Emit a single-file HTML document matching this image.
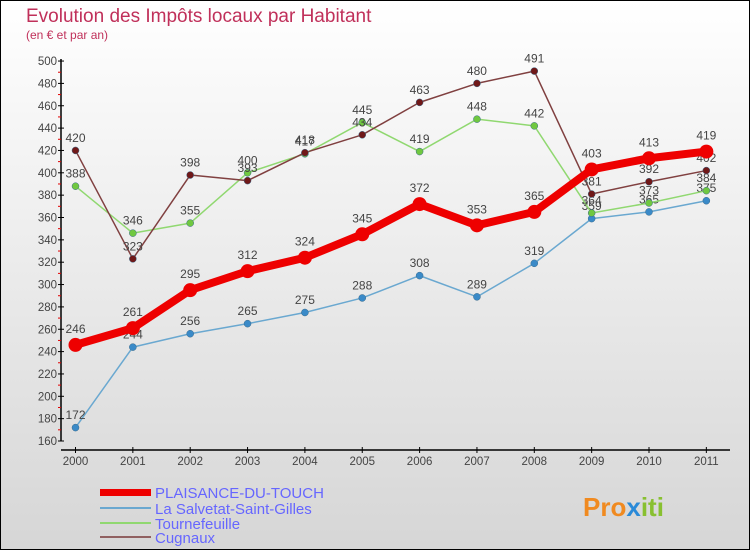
<!DOCTYPE html>
<html><head><meta charset="utf-8"><style>
html,body{margin:0;padding:0}
body{width:750px;height:550px;overflow:hidden;font-family:"Liberation Sans",sans-serif}
</style></head><body>
<svg width="750" height="550" xmlns="http://www.w3.org/2000/svg">
<defs><linearGradient id="bg" x1="0" y1="0" x2="0" y2="1"><stop offset="0" stop-color="#ffffff"/><stop offset="1" stop-color="#d6d6d6"/></linearGradient></defs>
<rect x="0.5" y="0.5" width="749" height="549" fill="url(#bg)" stroke="#000"/>
<text x="26" y="22" font-size="19" fill="#c0305a">Evolution des Impôts locaux par Habitant</text>
<text x="26" y="39" font-size="12" fill="#c0305a">(en € et par an)</text>
<g id="axes"></g>
<g id="series"></g>
<g>
<rect x="100" y="489" width="51" height="7" fill="#ee0000"/>
<text x="155" y="498" font-size="15" fill="#6666ff">PLAISANCE-DU-TOUCH</text>
<line x1="100" y1="508" x2="151" y2="508" stroke="#6aa8d0" stroke-width="2"/>
<text x="155" y="514" font-size="15" fill="#6666ff">La Salvetat-Saint-Gilles</text>
<line x1="100" y1="523" x2="151" y2="523" stroke="#90d870" stroke-width="2"/>
<text x="155" y="529" font-size="15" fill="#6666ff">Tournefeuille</text>
<line x1="100" y1="537" x2="151" y2="537" stroke="#906060" stroke-width="2"/>
<text x="155" y="543" font-size="15" fill="#6666ff">Cugnaux</text>
</g>
<text x="583" y="516" font-size="26" font-weight="bold" fill="#f08a20">Pro<tspan fill="#2a8ad8">x</tspan><tspan fill="#88c030">iti</tspan></text>
</svg>
<script>
const years=[2000,2001,2002,2003,2004,2005,2006,2007,2008,2009,2010,2011];
const yTicks=[160,180,200,220,240,260,280,300,320,340,360,380,400,420,440,460,480,500];
const plaisance=[246,261,295,312,324,345,372,353,365,403,413,419];
const salvetat=[172,244,256,265,275,288,308,289,319,359,365,375];
const tournefeuille=[388,346,355,400,417,445,419,448,442,364,373,384];
const cugnaux=[420,323,398,393,418,434,463,480,491,381,392,402];
const NS="http://www.w3.org/2000/svg";
function X(i){return 75.5+i*57.35;}
function Y(v){return 441-(v-160)*22.35/20;}
function mk(t,a,p){const e=document.createElementNS(NS,t);for(const k in a)e.setAttribute(k,a[k]);p.appendChild(e);return e;}
const ax=document.getElementById('axes');
const yl=mk('line',{x1:61,y1:Y(500)-2,x2:61,y2:Y(160),stroke:'#000','stroke-width':1.5},ax);


const xl=mk('line',{x1:61,y1:450,x2:730,y2:450,stroke:'#000','stroke-width':1.5},ax);


yTicks.forEach((v,i)=>{
  mk('line',{x1:58,y1:Y(v),x2:64,y2:Y(v),stroke:'#000'},ax);
  if(i<yTicks.length-1)mk('line',{x1:58,y1:Y(v+10),x2:61,y2:Y(v+10),stroke:'#e00000'},ax);
  const t=mk('text',{x:57,y:Y(v)+4,'text-anchor':'end','font-size':11.5,fill:'#444'},ax);
  t.textContent=v;
  
  
});
years.forEach((y,i)=>{
  mk('line',{x1:X(i),y1:447,x2:X(i),y2:453,stroke:'#000'},ax);
  const t=mk('text',{x:X(i),y:465,'text-anchor':'middle','font-size':11.5,fill:'#444'},ax);
  t.textContent=y;
  
  
});
const sg=document.getElementById('series');
function draw(vals,color,w,r,name,fill){
  const g=mk('g',{},sg);
  
  
  mk('polyline',{points:vals.map((v,i)=>X(i)+','+Y(v)).join(' '),fill:'none',stroke:color,'stroke-width':w,'stroke-linejoin':'round'},g);
  vals.forEach((v,i)=>{
    const c=mk('circle',{cx:X(i),cy:Y(v),r:r,fill:fill,stroke:fill==='#ee0000'?'none':'#3a6a8a','stroke-width':0.5},g);
    
    
    const t=mk('text',{x:X(i),y:Y(v)-r-5,'text-anchor':'middle','font-size':12,fill:'#444'},g);
    t.textContent=v;
    
    
  });
}
draw(salvetat,'#6aa8d0',1.5,3.5,'salvetat','#3a8ac8');
draw(tournefeuille,'#90d870',1.5,3.5,'tournefeuille','#70c840');
draw(cugnaux,'#804040',1.5,3.5,'cugnaux','#701818');
draw(plaisance,'#ee0000',8,7,'plaisance','#ee0000');
</script>
</body></html>
